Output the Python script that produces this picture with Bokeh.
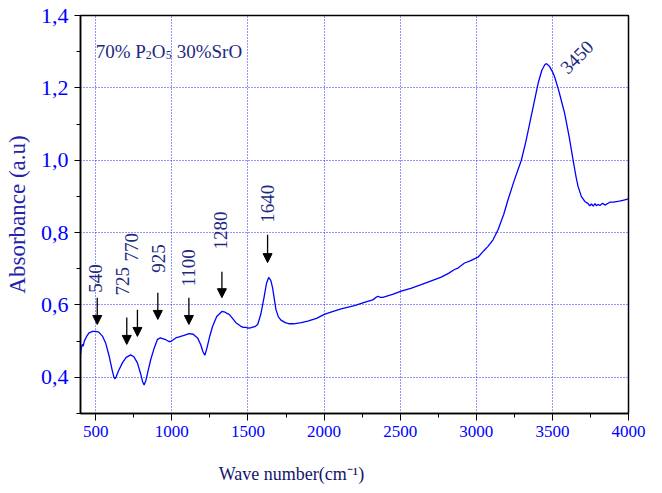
import math
from bokeh.plotting import figure
from bokeh.models import (Range1d, FixedTicker, Label, Arrow,
                          NormalHead, ColumnDataSource)
from bokeh.embed import file_html
from bokeh.resources import INLINE
from bokeh.core.properties import value

# ---------------- data ----------------
wavenumber = [400, 405, 412, 418, 425, 440, 456, 480, 500, 520, 544, 565, 588, 608, 620,
              627, 635, 650, 675, 700, 730, 750, 774, 795, 808, 818, 830, 845, 862, 885,
              906, 925, 939, 960, 980, 993, 1010, 1030, 1048, 1080, 1114, 1140, 1169, 1190,
              1205, 1217, 1230, 1250, 1268, 1295, 1329, 1350, 1365, 1377, 1400, 1421, 1454,
              1470, 1487, 1500, 1520, 1545, 1564, 1585, 1607, 1622, 1636, 1650, 1662, 1684,
              1700, 1717, 1745, 1772, 1800, 1850, 1893, 1950, 2002, 2050, 2112, 2200, 2265,
              2320, 2345, 2353, 2370, 2386, 2450, 2507, 2570, 2638, 2700, 2770, 2820, 2857,
              2880, 2923, 2960, 3011, 3050, 3077, 3110, 3143, 3180, 3208, 3250, 3296, 3325,
              3351, 3380, 3406, 3430, 3450, 3461, 3480, 3500, 3515, 3540, 3560, 3581, 3610,
              3636, 3655, 3669, 3690, 3713, 3735, 3745, 3757, 3768, 3780, 3790, 3800, 3812,
              3830, 3845, 3866, 3880, 3900, 3940, 3970, 4000]
absorbance = [0.463, 0.480, 0.491, 0.486, 0.500, 0.513, 0.523, 0.527, 0.527, 0.525, 0.514,
              0.495, 0.459, 0.420, 0.400, 0.396, 0.402, 0.418, 0.440, 0.455, 0.462, 0.457,
              0.440, 0.410, 0.388, 0.379, 0.392, 0.420, 0.450, 0.482, 0.505, 0.509, 0.507,
              0.504, 0.499, 0.499, 0.504, 0.510, 0.512, 0.516, 0.521, 0.519, 0.509, 0.490,
              0.470, 0.461, 0.480, 0.515, 0.541, 0.568, 0.582, 0.580, 0.576, 0.574, 0.562,
              0.551, 0.541, 0.538, 0.538, 0.536, 0.537, 0.540, 0.546, 0.575, 0.624, 0.660,
              0.676, 0.668, 0.647, 0.587, 0.567, 0.558, 0.551, 0.548, 0.548, 0.551, 0.555,
              0.563, 0.574, 0.581, 0.589, 0.598, 0.607, 0.614, 0.622, 0.624, 0.621, 0.621,
              0.629, 0.638, 0.646, 0.656, 0.666, 0.677, 0.688, 0.698, 0.702, 0.716, 0.722,
              0.732, 0.750, 0.762, 0.780, 0.808, 0.850, 0.890, 0.945, 1.000, 1.050, 1.102,
              1.160, 1.212, 1.248, 1.264, 1.267, 1.260, 1.245, 1.230, 1.195, 1.163, 1.129,
              1.065, 1.000, 0.955, 0.927, 0.900, 0.886, 0.880, 0.874, 0.879, 0.873, 0.880,
              0.874, 0.878, 0.875, 0.881, 0.876, 0.881, 0.884, 0.884, 0.887, 0.890, 0.893]

x_ticks = [500, 1000, 1500, 2000, 2500, 3000, 3500, 4000]
x_tick_labels = ["500", "1000", "1500", "2000", "2500", "3000", "3500", "4000"]
x_minor = [750, 1250, 1750, 2250, 2750, 3250, 3750]
y_ticks = [0.4, 0.6, 0.8, 1.0, 1.2, 1.4]
y_tick_labels = ["0,4", "0,6", "0,8", "1,0", "1,2", "1,4"]
y_minor = [0.3, 0.5, 0.7, 0.9, 1.1, 1.3]

band_labels = ["540", "725", "770", "925", "1100", "1280", "1640"]
band_label_x = [500, 678, 733, 911, 1107, 1322, 1628]
band_label_y = [0.634, 0.626, 0.720, 0.689, 0.651, 0.753, 0.827]
arrow_x = [510, 704, 774, 908, 1112, 1329, 1629]
arrow_top = [0.620, 0.565, 0.587, 0.634, 0.620, 0.692, 0.794]
arrow_tip = [0.546, 0.491, 0.513, 0.560, 0.546, 0.620, 0.717]

peak_label = "3450"
peak_label_x = 3572
peak_label_y = 1.248

x_title = "Wave number(cm\u207b\u00b9)"
y_title = "Absorbance (a.u)"

SERIF = "Liberation Serif"
NAVY = "#1e2a80"
BLUE = "#0000ff"

# ---------------- figure ----------------
p = figure(width=660, height=493, output_backend="svg", toolbar_location=None,
           x_range=Range1d(400, 4000), y_range=Range1d(0.3, 1.4),
           min_border_left=80, min_border_right=32, min_border_top=15,
           min_border_bottom=80, background_fill_color="white",
           border_fill_color="white")
p.outline_line_color = "black"
p.outline_line_width = 1.5

xt = FixedTicker(ticks=x_ticks, minor_ticks=x_minor)
yt = FixedTicker(ticks=y_ticks, minor_ticks=y_minor)

xa = p.xaxis[0]
xa.ticker = xt
xa.major_label_overrides = {t: s for t, s in zip(x_ticks, x_tick_labels)}
xa.major_label_text_font = SERIF
xa.major_label_text_font_size = "17px"
xa.major_label_text_color = BLUE
xa.major_label_standoff = 5
xa.major_tick_out = 7
xa.major_tick_in = 0
xa.minor_tick_out = 4
xa.minor_tick_in = 0
xa.axis_line_color = "black"
xa.axis_line_width = 1.5
xa.major_tick_line_color = "black"
xa.minor_tick_line_color = "black"
# title is off-centre (to the left) in the reference: pad it with no-break spaces
xa.axis_label = x_title + "\u00a0" * 28
xa.axis_label_text_font = SERIF
xa.axis_label_text_font_size = "18px"
xa.axis_label_text_font_style = "normal"
xa.axis_label_text_color = "#14146a"
xa.axis_label_standoff = 24

ya = p.yaxis[0]
ya.ticker = yt
ya.major_label_overrides = {t: s for t, s in zip(y_ticks, y_tick_labels)}
ya.major_label_text_font = SERIF
ya.major_label_text_font_size = "22px"
ya.major_label_text_color = BLUE
ya.major_label_standoff = 6
ya.major_tick_out = 6
ya.major_tick_in = 0
ya.minor_tick_out = 4
ya.minor_tick_in = 0
ya.axis_line_color = "black"
ya.axis_line_width = 1.5
ya.axis_label = y_title
ya.axis_label_text_font = SERIF
ya.axis_label_text_font_size = "23px"
ya.axis_label_text_font_style = "normal"
ya.axis_label_text_color = "#2222aa"
ya.axis_label_standoff = 8

p.xgrid.ticker = xt
p.ygrid.ticker = yt
for g in (p.xgrid[0], p.ygrid[0]):
    g.grid_line_color = "#2a2aff"
    g.grid_line_dash = "1 2"
    g.grid_line_width = 1

# spectrum
p.line(wavenumber, absorbance, line_color=BLUE, line_width=1.3)

# arrows
asrc = ColumnDataSource(dict(x=arrow_x, y0=arrow_top, y1=arrow_tip))
p.add_layout(Arrow(x_start="x", y_start="y0", x_end="x", y_end="y1", source=asrc,
                   line_color="black", line_width=1.3,
                   end=NormalHead(size=9, fill_color="black", line_color="black",
                                  line_width=1)))

# band labels
p.text(x=band_label_x, y=band_label_y, text=band_labels, angle=math.pi / 2,
       text_align="left", text_baseline="middle", text_font=value(SERIF),
       text_font_size="19px", text_color=NAVY)
p.text(x=[peak_label_x], y=[peak_label_y], text=[peak_label], angle=math.pi / 4,
       text_align="left", text_baseline="alphabetic", text_font=value(SERIF),
       text_font_size="19px", text_color=NAVY)

# composition label with subscripts
comp_x = 500
comp_y = 1.301
sub_dy = 0.011
parts = [("70% P", 0, 0, 19), ("2", 50, -1, 12), ("O", 56, 0, 19), ("5", 70, -1, 12),
         ("30%SrO", 81, 0, 19)]
for txt, off, sub, fs in parts:
    p.add_layout(Label(x=comp_x, y=comp_y + sub * sub_dy, x_offset=off, text=txt,
                       text_font=SERIF, text_font_size=f"{fs}px", text_color=NAVY,
                       text_baseline="alphabetic", text_align="left"))

open("out.html", "w").write(file_html(p, INLINE))
